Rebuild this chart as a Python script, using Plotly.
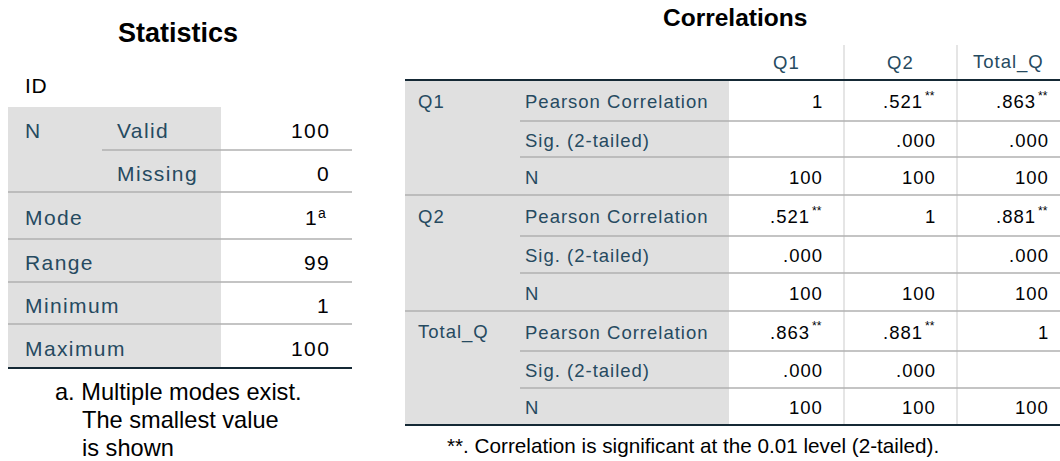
import plotly.graph_objects as go

# ---------------- data ----------------
stat_title = "Statistics"
stat_variable = "ID"
stat_groups = ["N", "", "Mode", "Range", "Minimum", "Maximum"]
stat_subs = ["Valid", "Missing", "", "", "", ""]
stat_values = [100, 0, 1, 99, 1, 100]
stat_marks = ["", "", "a", "", "", ""]
stat_footnote = ["a. Multiple modes exist.", "The smallest value", "is shown"]

corr_title = "Correlations"
corr_vars = ["Q1", "Q2", "Total_Q"]
corr_stats = ["Pearson Correlation", "Sig. (2-tailed)", "N"]
pearson = [[1, 0.521, 0.863], [0.521, 1, 0.881], [0.863, 0.881, 1]]
sig_p = [[None, 0.000, 0.000], [0.000, None, 0.000], [0.000, 0.000, None]]
n_obs = [[100, 100, 100], [100, 100, 100], [100, 100, 100]]
corr_footnote = "**. Correlation is significant at the 0.01 level (2-tailed)."

# ---------------- style ----------------
FONT = "Liberation Sans, Arial, sans-serif"
LABEL_C = "#264a60"
VALUE_C = "#010205"
GRAY = "#e0e0e0"
RULE = "#b0b0b0"
DARK = "#152935"
VRULE = "#dcdcdc"

shapes = []
annotations = []


def txt(x, y, s, size, color, anchor="left", bold=False, ls=0):
    if ls:
        s = "<span style='letter-spacing:%spx'>%s</span>" % (ls, s)
    if bold:
        s = "<b>%s</b>" % s
    annotations.append(dict(x=x, y=y, xref="x", yref="y", text=s, showarrow=False,
                            xanchor=anchor, yanchor="middle", borderpad=0, borderwidth=0,
                            font=dict(family=FONT, size=size, color=color)))


def rect(x0, y0, x1, y1, color):
    shapes.append(dict(type="rect", xref="x", yref="y", x0=x0, x1=x1, y0=y0, y1=y1,
                       fillcolor=color, line=dict(width=0), layer="below"))


def hline(x0, x1, y, color, w):
    shapes.append(dict(type="line", xref="x", yref="y", x0=x0, x1=x1, y0=y, y1=y,
                       line=dict(color=color, width=w)))


def vline(x, y0, y1, color, w):
    shapes.append(dict(type="line", xref="x", yref="y", x0=x, x1=x, y0=y0, y1=y1,
                       line=dict(color=color, width=w), layer="below"))


def fmt_r(v):
    return "1" if v == 1 else ("%.3f" % v).lstrip("0")


def fmt_p(v):
    return "" if v is None else ("%.3f" % v).lstrip("0")


# ---------------- Statistics table ----------------
S_X0, S_XSUB, S_XG, S_X1 = 8, 102, 221, 352
S_Y = [107, 150, 192, 239, 282, 324, 368]
S_FS, S_LS = 21, 1.4

txt(178, 33, stat_title, 27, "#000000", "center", bold=True)
txt(25, 85, stat_variable, S_FS, "#000000", ls=0.6)
rect(S_X0, S_Y[0], S_XG, S_Y[-1], GRAY)
for i in range(1, len(stat_groups)):
    xs = S_XSUB if stat_groups[i] == "" else S_X0
    hline(xs, S_X1, S_Y[i], RULE, 1.5)
hline(S_X0, S_X1, S_Y[-1], DARK, 2)

for i, (g, s, v, m) in enumerate(zip(stat_groups, stat_subs, stat_values, stat_marks)):
    yc = (S_Y[i] + S_Y[i + 1]) / 2 + 2
    if g:
        txt(25, yc, g, S_FS, LABEL_C, ls=S_LS)
    if s:
        txt(117, yc, s, S_FS, LABEL_C, ls=S_LS)
    vr = 329 + S_LS
    if m:
        txt(326, yc - 5, m, 14, VALUE_C, "right")
        txt(vr - 12, yc, str(v), S_FS, VALUE_C, "right", ls=S_LS)
    else:
        txt(vr, yc, str(v), S_FS, VALUE_C, "right", ls=S_LS)

for k, line in enumerate(stat_footnote):
    txt(55 if k == 0 else 82, 392 + 28 * k, line, 23.6, "#000000")

# ---------------- Correlations table ----------------
C_X0, C_XSUB, C_XG = 405, 520, 729
C_XC = [729, 844, 957, 1060]
C_Y = [80, 121, 157, 195, 236, 273, 311, 351, 388, 425]
C_FS, C_LS = 18.5, 1.0
VAL_R = [822, 935, 1048]

txt(735, 17, corr_title, 24.5, "#000000", "center", bold=True)
rect(C_X0, C_Y[0], C_XG, C_Y[-1], GRAY)
for x in C_XC[1:-1]:
    vline(x, 45, C_Y[-1], VRULE, 1.5)
for j, var in enumerate(corr_vars):
    txt((C_XC[j] + C_XC[j + 1]) / 2, 62, var, C_FS, LABEL_C, "center", ls=C_LS)
hline(C_X0, C_XC[-1], C_Y[0], DARK, 2)
n_rows = len(corr_vars) * len(corr_stats)
for b in range(1, n_rows):
    xs = C_X0 if b % len(corr_stats) == 0 else C_XSUB
    hline(xs, C_XC[-1], C_Y[b], RULE, 1.5)
hline(C_X0, C_XC[-1], C_Y[-1], DARK, 2)

for vi, var in enumerate(corr_vars):
    for si, stat in enumerate(corr_stats):
        r = vi * len(corr_stats) + si
        yc = (C_Y[r] + C_Y[r + 1]) / 2 + 1
        if si == 0:
            txt(418, yc, var, C_FS, LABEL_C, ls=C_LS)
        txt(525, yc, stat, C_FS, LABEL_C, ls=C_LS)
        for j in range(len(corr_vars)):
            vr = VAL_R[j] + C_LS
            if si == 0:
                v = pearson[vi][j]
                if v != 1:
                    txt(VAL_R[j], yc - 6, "**", 12, VALUE_C, "right")
                    txt(vr - 13, yc, fmt_r(v), C_FS, VALUE_C, "right", ls=C_LS)
                else:
                    txt(vr, yc, fmt_r(v), C_FS, VALUE_C, "right", ls=C_LS)
            elif si == 1:
                s = fmt_p(sig_p[vi][j])
                if s:
                    txt(vr, yc, s, C_FS, VALUE_C, "right", ls=C_LS)
            else:
                txt(vr, yc, str(n_obs[vi][j]), C_FS, VALUE_C, "right", ls=C_LS)

txt(447, 445, corr_footnote, 20.7, "#000000")

fig = go.Figure()
fig.update_layout(
    width=1060, height=461, autosize=False,
    margin=dict(l=0, r=0, t=0, b=0, pad=0),
    paper_bgcolor="white", plot_bgcolor="white",
    xaxis=dict(range=[0, 1060], visible=False, fixedrange=True),
    yaxis=dict(range=[461, 0], visible=False, fixedrange=True),
    shapes=shapes, annotations=annotations, showlegend=False,
)
fig.write_html("out.html", config={"displayModeBar": False, "staticPlot": True},
               post_script="document.body.style.margin='0';document.body.style.overflow='hidden';")
